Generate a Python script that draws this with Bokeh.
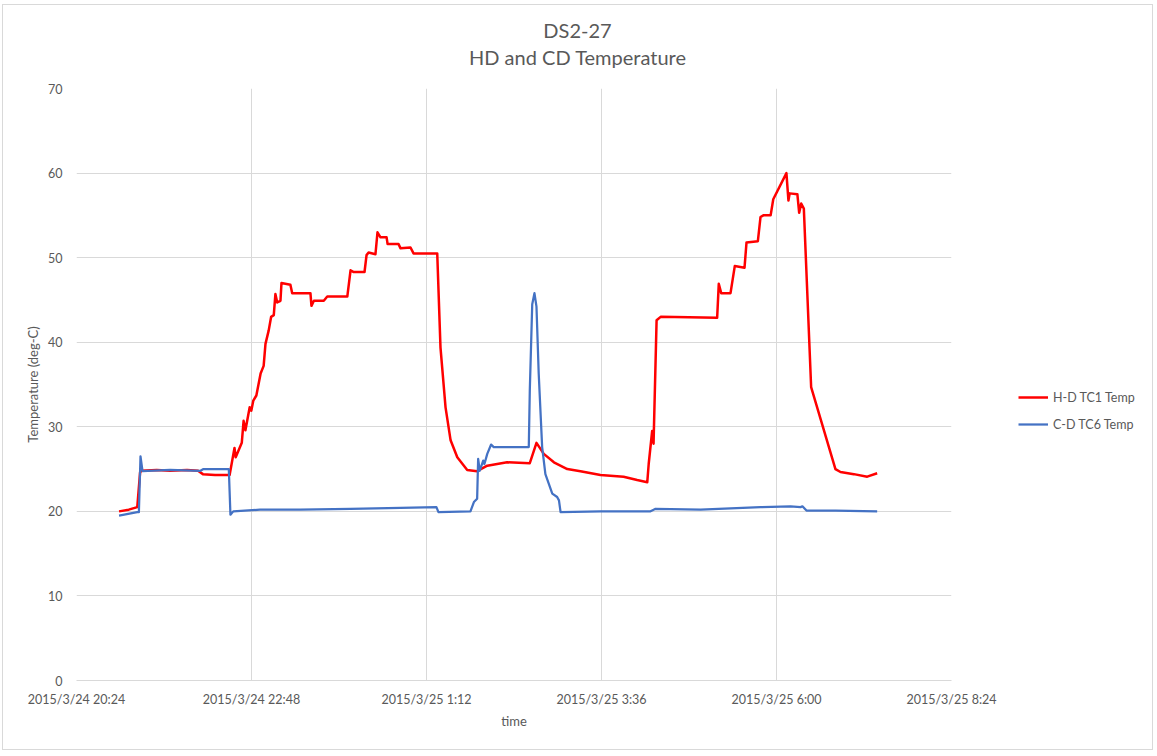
import pandas as pd
from bokeh.plotting import figure
from bokeh.layouts import column, row
from bokeh.models import FixedTicker, Legend, LegendItem, Range1d, Div
from bokeh.embed import file_html
from bokeh.resources import INLINE

# ---------------- data ----------------
hd_time = [
    "3/24 20:59:00", "3/24 21:07:00", "3/24 21:14:00", "3/24 21:16:20", "3/24 21:17:30",
    "3/24 21:30:00", "3/24 21:41:00", "3/24 21:55:00", "3/24 22:04:00", "3/24 22:08:00",
    "3/24 22:18:00", "3/24 22:30:00", "3/24 22:34:00", "3/24 22:35:00", "3/24 22:40:00",
    "3/24 22:41:30", "3/24 22:43:00", "3/24 22:46:30", "3/24 22:47:50", "3/24 22:49:30",
    "3/24 22:52:00", "3/24 22:55:30", "3/24 22:58:00", "3/24 22:59:30", "3/24 23:02:10",
    "3/24 23:04:10", "3/24 23:06:20", "3/24 23:07:40", "3/24 23:09:10", "3/24 23:11:50",
    "3/24 23:12:40", "3/24 23:20:00", "3/24 23:21:30", "3/24 23:36:30", "3/24 23:37:20",
    "3/24 23:39:20", "3/24 23:47:30", "3/24 23:50:20", "3/25 0:06:50", "3/25 0:09:30",
    "3/25 0:12:10", "3/25 0:21:00", "3/25 0:22:40", "3/25 0:24:20", "3/25 0:30:00",
    "3/25 0:31:40", "3/25 0:34:10", "3/25 0:39:10", "3/25 0:40:00", "3/25 0:49:00",
    "3/25 0:50:40", "3/25 0:58:50", "3/25 1:01:20", "3/25 1:20:50", "3/25 1:23:30",
    "3/25 1:27:40", "3/25 1:31:50", "3/25 1:37:20", "3/25 1:45:30", "3/25 1:53:40",
    "3/25 2:02:00", "3/25 2:18:20", "3/25 2:37:00", "3/25 2:42:30", "3/25 2:48:30",
    "3/25 2:56:50", "3/25 3:07:50", "3/25 3:18:40", "3/25 3:35:10", "3/25 3:54:10",
    "3/25 4:05:20", "3/25 4:13:40", "3/25 4:14:50", "3/25 4:17:40", "3/25 4:18:50",
    "3/25 4:21:20", "3/25 4:24:40", "3/25 5:11:10", "3/25 5:12:30", "3/25 5:14:30",
    "3/25 5:22:10", "3/25 5:25:40", "3/25 5:33:40", "3/25 5:35:20", "3/25 5:44:40",
    "3/25 5:46:50", "3/25 5:49:10", "3/25 5:55:10", "3/25 5:57:20", "3/25 6:08:10",
    "3/25 6:09:50", "3/25 6:10:50", "3/25 6:17:10", "3/25 6:18:40", "3/25 6:20:20",
    "3/25 6:22:30", "3/25 6:28:30", "3/25 6:48:30", "3/25 6:52:40", "3/25 7:03:40",
    "3/25 7:14:40", "3/25 7:22:50",
]
hd_temp = [
    20.0, 20.2, 20.5, 24.6, 24.8,
    24.9, 24.8, 24.9, 24.8, 24.4,
    24.3, 24.3, 27.5, 26.4, 28.1,
    30.7, 29.6, 32.3, 31.9, 33.1,
    33.7, 36.3, 37.2, 39.8, 41.4,
    43.0, 43.2, 45.7, 44.7, 44.9,
    47.0, 46.8, 45.8, 45.8, 44.3,
    44.9, 44.9, 45.4, 45.4, 48.5,
    48.3, 48.3, 50.3, 50.6, 50.4,
    53.0, 52.4, 52.4, 51.6, 51.6,
    51.1, 51.2, 50.5, 50.5, 39.4,
    32.3, 28.4, 26.4, 24.9, 24.75,
    25.4, 25.8, 25.7, 28.1, 26.8,
    25.8, 25.0, 24.75, 24.3, 24.1,
    23.7, 23.45, 25.6, 29.5, 28.0,
    42.6, 43.0, 42.9, 46.9, 45.8,
    45.8, 49.0, 48.8, 51.8, 51.95,
    54.8, 55.0, 55.0, 56.9, 60.0,
    56.75, 57.6, 57.5, 55.3, 56.4,
    55.8, 34.7, 25.0, 24.65, 24.4,
    24.1, 24.5,
]

cd_time = [
    "3/24 20:59:00", "3/24 21:14:00", "3/24 21:15:20", "3/24 21:16:40", "3/24 21:18:20",
    "3/24 21:41:00", "3/24 22:06:00", "3/24 22:08:30", "3/24 22:29:20", "3/24 22:30:40",
    "3/24 22:33:00", "3/24 22:55:00", "3/24 23:28:00", "3/25 0:09:30", "3/25 0:50:40",
    "3/25 1:20:10", "3/25 1:21:50", "3/25 1:48:10", "3/25 1:51:00", "3/25 1:53:40",
    "3/25 1:54:30", "3/25 1:55:50", "3/25 1:58:40", "3/25 1:59:40", "3/25 2:02:00",
    "3/25 2:05:10", "3/25 2:07:20", "3/25 2:36:10", "3/25 2:37:00", "3/25 2:39:00",
    "3/25 2:40:50", "3/25 2:42:30", "3/25 2:44:20", "3/25 2:47:10", "3/25 2:49:50",
    "3/25 2:55:30", "3/25 2:59:30", "3/25 3:01:00", "3/25 3:02:20", "3/25 3:35:10",
    "3/25 4:16:20", "3/25 4:20:30", "3/25 4:57:30", "3/25 5:46:50", "3/25 6:11:30",
    "3/25 6:19:50", "3/25 6:21:20", "3/25 6:24:40", "3/25 6:48:30", "3/25 7:22:50",
]
cd_temp = [
    19.5, 19.9, 19.9, 26.5, 24.75,
    24.9, 24.8, 25.0, 25.0, 19.6,
    20.0, 20.2, 20.2, 20.3, 20.4,
    20.5, 19.9, 20.0, 21.1, 21.5,
    26.2, 24.8, 26.0, 25.6, 26.8,
    27.9, 27.6, 27.6, 34.3, 44.5,
    45.8, 44.2, 36.3, 27.6, 24.4,
    22.1, 21.7, 21.3, 19.9, 20.0,
    20.0, 20.3, 20.2, 20.5, 20.6,
    20.5, 20.6, 20.1, 20.1, 20.0,
]

x_tick_labels = ["2015/3/24 20:24", "2015/3/24 22:48", "2015/3/25 1:12",
                 "2015/3/25 3:36", "2015/3/25 6:00", "2015/3/25 8:24"]
y_ticks = [0, 10, 20, 30, 40, 50, 60, 70]

title_lines = ["DS2-27", "HD and CD Temperature"]
series_names = ["H-D TC1 Temp", "C-D TC6 Temp"]
series_colors = ["#FF0000", "#4472C4"]

BASE = pd.Timestamp("2015-03-24 00:00:00")


def to_minutes(strings, prefix="2015/"):
    t = pd.to_datetime([prefix + s for s in strings], format="%Y/%m/%d %H:%M:%S")
    return [float(v) for v in (t - BASE).total_seconds() / 60.0]


hd_x = to_minutes(hd_time)
cd_x = to_minutes(cd_time)
tick_x = [int(round(v)) for v in to_minutes([s[5:] + ":00" for s in x_tick_labels])]

# ---------------- layout ----------------
OX, OY = 3, 5                 # offset of the chart box on the page
TOTAL_W, TOTAL_H = 1149, 744
HEAD_H = 70
W1 = 1005                     # main figure width (room for the last tick label)
W2 = TOTAL_W - W1             # legend strip width
H = TOTAL_H - HEAD_H
ML, MR, MT, MB = 73, W1 - 948, 13, 69
FONT = "Lato"
GRAY = "#595959"
GRID = "#d9d9d9"

head = Div(text=('<div style="padding-top:11.5px;font-family:Lato;font-size:20px;'
                 'color:#595959;text-align:center;line-height:27px;width:%dpx">%s</div>'
                 % (TOTAL_W, "<br>".join(title_lines))),
           width=TOTAL_W, height=HEAD_H, margin=0)

p = figure(width=W1, height=H, output_backend="svg", toolbar_location=None,
           title=None, min_border_left=ML, min_border_right=MR,
           min_border_top=MT, min_border_bottom=MB, margin=0,
           x_range=Range1d(tick_x[0], tick_x[-1]),
           y_range=Range1d(y_ticks[0], y_ticks[-1]))
p.outline_line_color = None
p.background_fill_color = "white"
p.border_fill_color = "white"

p.line(hd_x, hd_temp, line_color=series_colors[0], line_width=2.5, line_join="round")
p.line(cd_x, cd_temp, line_color=series_colors[1], line_width=2.25, line_join="round")

# axes
p.xaxis.ticker = FixedTicker(ticks=tick_x)
p.xaxis.major_label_overrides = {t: lab for t, lab in zip(tick_x, x_tick_labels)}
p.yaxis.ticker = FixedTicker(ticks=y_ticks)
for ax in (p.xaxis, p.yaxis):
    ax.major_tick_line_color = None
    ax.minor_tick_line_color = None
    ax.major_label_text_font = FONT
    ax.major_label_text_font_size = "12.5px"
    ax.major_label_text_color = GRAY
    ax.axis_label_text_font = FONT
    ax.axis_label_text_font_size = "13px"
    ax.axis_label_text_font_style = "normal"
    ax.axis_label_text_color = GRAY
p.xaxis.axis_line_color = GRID
p.yaxis.axis_line_color = None
p.xaxis.major_label_standoff = 5
p.yaxis.major_label_standoff = 8
p.xaxis.axis_label = "time"
p.yaxis.axis_label = "Temperature (deg-C)"
p.xaxis.axis_label_standoff = 3
p.yaxis.axis_label_standoff = 4

p.xgrid.ticker = FixedTicker(ticks=tick_x)
p.ygrid.ticker = FixedTicker(ticks=y_ticks)
p.xgrid.grid_line_color = GRID
p.ygrid.grid_line_color = GRID

# legend strip to the right (same line styles as the series; no visible data)
nan = float("nan")
q = figure(width=W2, height=H, output_backend="svg", toolbar_location=None,
           title=None, min_border=0, margin=0,
           x_range=Range1d(0, 1), y_range=Range1d(0, 1))
q.axis.visible = False
q.grid.visible = False
q.outline_line_color = None
q.border_fill_color = "white"
q.background_fill_color = "white"
l_hd = q.line([nan], [nan], line_color=series_colors[0], line_width=2.5)
l_cd = q.line([nan], [nan], line_color=series_colors[1], line_width=2.25)
legend = Legend(items=[LegendItem(label=series_names[0], renderers=[l_hd]),
                       LegendItem(label=series_names[1], renderers=[l_cd])],
                location=(1018 - OX - W1, 246), orientation="vertical")
legend.border_line_color = None
legend.background_fill_alpha = 0
legend.padding = 0
legend.margin = 0
legend.spacing = 7
legend.glyph_width = 30
legend.glyph_height = 20
legend.label_height = 20
legend.label_standoff = 5
legend.label_text_font = FONT
legend.label_text_font_size = "12.5px"
legend.label_text_color = GRAY
q.add_layout(legend, "center")

layout = column(head, row(p, q, spacing=0, margin=0), spacing=0,
                margin=(OY, 0, 0, OX),
                styles={"outline": "1px solid #d9d9d9", "background": "white"})
open("out.html", "w").write(file_html(layout, INLINE))
